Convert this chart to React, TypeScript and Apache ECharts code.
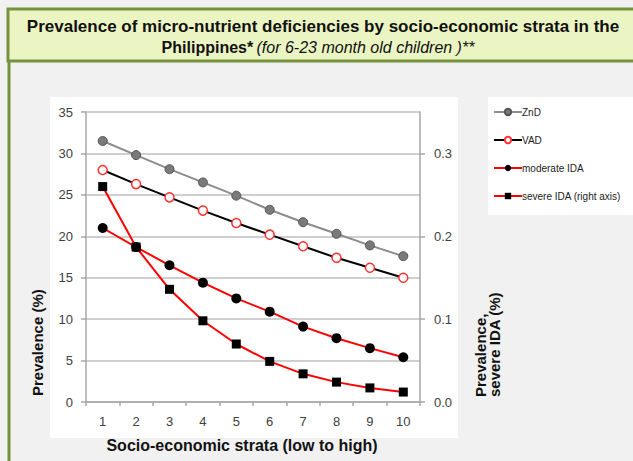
import React, { useEffect, useRef } from "react";
import * as echarts from "echarts";

const strata = ["1", "2", "3", "4", "5", "6", "7", "8", "9", "10"];
const znd = [31.5, 29.8, 28.1, 26.5, 24.9, 23.2, 21.7, 20.3, 18.9, 17.6];
const vad = [28.0, 26.3, 24.7, 23.1, 21.6, 20.2, 18.8, 17.4, 16.2, 15.0];
const moderateIda = [21.0, 18.7, 16.5, 14.4, 12.5, 10.9, 9.1, 7.7, 6.5, 5.4];
const severeIda = [0.26, 0.187, 0.136, 0.098, 0.07, 0.049, 0.034, 0.024, 0.017, 0.012];
const leftTicks = [0, 5, 10, 15, 20, 25, 30, 35];
const rightTicks = [0, 0.1, 0.2, 0.3];

const FONT = "'Liberation Sans', Arial, sans-serif";

export default function App() {
  const ref = useRef<HTMLDivElement>(null);
  useEffect(() => {
    if (!ref.current) return;
    const chart = echarts.init(ref.current, null, { renderer: "svg" });
    chart.setOption({
      animation: false,
      backgroundColor: "#f1f1f1",
      textStyle: { fontFamily: FONT },
      graphic: [
        { type: "rect", z: -10, shape: { x: 50, y: 97, width: 408, height: 341 }, style: { fill: "#ffffff" } },
        { type: "rect", z: -10, shape: { x: 488, y: 97, width: 150, height: 118 }, style: { fill: "#ffffff" } },
        { type: "line", z: 5, shape: { x1: 9, y1: 60, x2: 9, y2: 470 }, style: { stroke: "#76923c", lineWidth: 3 } },
        {
          type: "rect", z: 5,
          shape: { x: 8, y: 9, width: 640, height: 52 },
          style: { fill: "#ebf5c3", stroke: "#76923c", lineWidth: 3 },
        },
        {
          type: "text", z: 6, x: 323, y: 26,
          style: {
            text: "Prevalence of micro-nutrient deficiencies by socio-economic strata in the",
            font: "bold 17px " + FONT, fill: "#111", align: "center", verticalAlign: "middle",
          },
        },
        {
          type: "text", z: 6, x: 318, y: 47,
          style: {
            text: "{b|Philippines*} {i|(for 6-23 month old children )**}",
            align: "center", verticalAlign: "middle",
            rich: {
              b: { font: "bold 16px " + FONT, fill: "#111" },
              i: { font: "italic 16px " + FONT, fill: "#111" },
            },
          },
        },
        {
          type: "text", x: 37, y: 396, rotation: Math.PI / 2,
          style: { text: "Prevalence (%)", font: "bold 15px " + FONT, fill: "#111", align: "left", verticalAlign: "middle" },
        },
        {
          type: "text", x: 487, y: 397, rotation: Math.PI / 2,
          style: {
            text: "Prevalence,\nsevere IDA (%)", font: "bold 15px " + FONT, fill: "#111",
            align: "left", verticalAlign: "middle", lineHeight: 14,
          },
        },
        {
          type: "text", x: 242, y: 445,
          style: { text: "Socio-economic strata (low to high)", font: "bold 16px " + FONT, fill: "#111", align: "center", verticalAlign: "middle" },
        },
      ],
      legend: {
        orient: "vertical",
        left: 488,
        top: 102,
        itemWidth: 28,
        itemHeight: 8,
        itemGap: 18,
        textStyle: { fontSize: 10, color: "#222", fontFamily: FONT, padding: [0, 0, 0, -5] },
        data: ["ZnD", "VAD", "moderate IDA", "severe IDA (right axis)"],
      },
      grid: { left: 86, right: 213, top: 112, bottom: 59 },
      xAxis: {
        type: "category",
        data: strata,
        axisLine: { lineStyle: { color: "#a6a6a6", width: 1.5 } },
        axisTick: { show: true, length: 4, lineStyle: { color: "#a6a6a6", width: 1.5 } },
        axisLabel: { color: "#404040", fontSize: 13, margin: 13 },
      },
      yAxis: [
        {
          type: "value", min: 0, max: 35, interval: 5,
          axisLine: { show: true, lineStyle: { color: "#a6a6a6", width: 1.5 } },
          axisTick: { show: true, length: 5, lineStyle: { color: "#a6a6a6", width: 1.5 } },
          axisLabel: { color: "#404040", fontSize: 13, margin: 13, formatter: (v: number) => (leftTicks.includes(v) ? String(v) : "") },
          splitLine: { lineStyle: { color: "#bfbfbf", width: 1.5 } },
        },
        {
          type: "value", min: 0, max: 0.35, interval: 0.1, position: "right",
          axisLine: { show: true, lineStyle: { color: "#a6a6a6", width: 1.5 } },
          axisTick: { show: true, length: 5, lineStyle: { color: "#a6a6a6", width: 1.5 } },
          axisLabel: {
            color: "#404040", fontSize: 13, margin: 14, showMaxLabel: false,
            formatter: (v: number) => {
              const hit = rightTicks.find((t) => Math.abs(t - v) < 1e-6);
              return hit === undefined ? "" : hit.toFixed(1);
            },
          },
          splitLine: { show: false },
        },
      ],
      series: [
        {
          name: "ZnD", type: "line", data: znd, symbol: "circle", symbolSize: 9,
          lineStyle: { color: "#8c8c8c", width: 2 },
          itemStyle: { color: "#7a7a7a", borderColor: "#555555", borderWidth: 1 },
        },
        {
          name: "VAD", type: "line", data: vad, symbol: "circle", symbolSize: 9,
          lineStyle: { color: "#000000", width: 2 },
          itemStyle: { color: "#ffffff", borderColor: "#ff3030", borderWidth: 1.5 },
        },
        {
          name: "moderate IDA", type: "line", data: moderateIda, symbol: "circle", symbolSize: 10,
          lineStyle: { color: "#ff0000", width: 2 },
          itemStyle: { color: "#000000", borderColor: "#000000", borderWidth: 0 },
        },
        {
          name: "severe IDA (right axis)", type: "line", yAxisIndex: 1, data: severeIda, symbol: "rect", symbolSize: 9,
          lineStyle: { color: "#ff0000", width: 2 },
          itemStyle: { color: "#000000", borderColor: "#000000", borderWidth: 0 },
        },
      ],
    });
    return () => chart.dispose();
  }, []);
  return <div ref={ref} style={{ position: "absolute", left: 0, top: 0, width: 633, height: 461 }} />;
}
